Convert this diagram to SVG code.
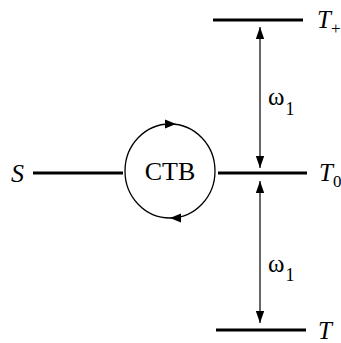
<svg xmlns="http://www.w3.org/2000/svg" width="341" height="343" viewBox="0 0 341 343">
<style>
.lvl{stroke:#000;stroke-width:3;fill:none}
.arr{stroke:#000;stroke-width:1.2;fill:none}
text{font-family:'Liberation Serif','Times New Roman',serif;fill:#000}
.it{font-style:italic}
</style>
<defs>
<marker id="ah" viewBox="0 0 10 10" refX="10" refY="5" markerWidth="11" markerHeight="11" markerUnits="userSpaceOnUse" orient="auto">
<path d="M0,1 L10,5 L0,9 Z" fill="#000"/>
</marker>
<marker id="ha" viewBox="0 0 10 10" refX="10" refY="5" markerWidth="12" markerHeight="12" markerUnits="userSpaceOnUse" orient="auto-start-reverse">
<path d="M0,1.5 L10,5 L0,8.5 Z" fill="#000"/>
</marker>
</defs>
<g id="levels">
<g id="Tplus"><line class="lvl" x1="213" y1="20" x2="303" y2="20"/><text class="it" x="317" y="28" font-size="25">T<tspan font-style="normal" font-size="17" dy="6">+</tspan></text></g>
<g id="T0"><line class="lvl" x1="218" y1="173" x2="307" y2="173"/><text class="it" x="319" y="181" font-size="25">T<tspan font-style="normal" font-size="17" dy="6">0</tspan></text></g>
<g id="Tminus"><line class="lvl" x1="216" y1="330" x2="306" y2="330"/><text class="it" x="318" y="339" font-size="25">T</text></g>
<g id="S"><line class="lvl" x1="33" y1="173" x2="123" y2="173"/><text class="it" x="11" y="182" font-size="26">S</text></g>
</g>
<g id="CTB">
<ellipse cx="170" cy="171" rx="45" ry="47" stroke="#000" stroke-width="1.3" fill="none"/>
<path d="M166,124 L176,124" stroke="none" fill="none" marker-end="url(#ah)"/>
<path d="M180,218 L170,218" stroke="none" fill="none" marker-end="url(#ah)"/>
<text x="170" y="180" font-size="26" text-anchor="middle">CTB</text>
</g>
<g id="connectors">
<line class="arr" x1="260" y1="27" x2="260" y2="168" marker-start="url(#ha)" marker-end="url(#ha)"/>
<line class="arr" x1="260" y1="181" x2="260" y2="323" marker-start="url(#ha)" marker-end="url(#ha)"/>
<text x="268" y="105" font-size="25">ω<tspan font-size="18" dx="1" dy="10">1</tspan></text>
<text x="268" y="272" font-size="25">ω<tspan font-size="18" dx="1" dy="9">1</tspan></text>
</g>
</svg>
